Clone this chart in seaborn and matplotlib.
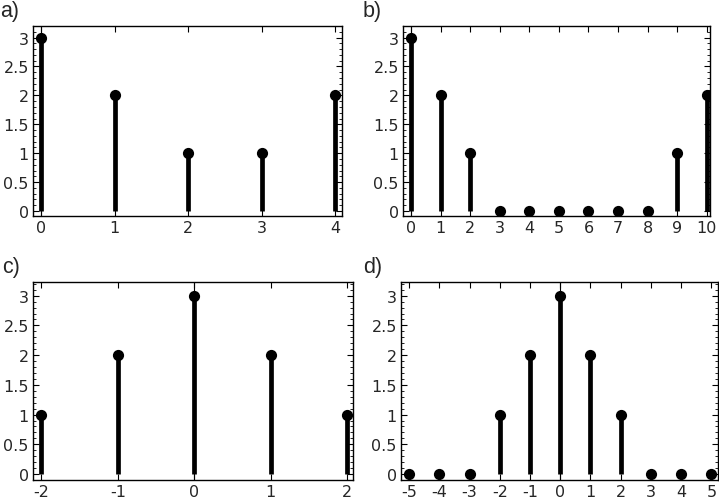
import matplotlib
matplotlib.use("Agg")
import matplotlib.pyplot as plt
import seaborn as sns
import pandas as pd
import numpy as np
from matplotlib.ticker import MultipleLocator, FixedLocator

sns.set_theme(style="ticks")
plt.rcParams['font.family'] = ['DejaVu Sans']
plt.rcParams['axes.unicode_minus'] = False

# Data
panel_labels = ["a)", "b)", "c)", "d)"]
x_a = [0, 1, 2, 3, 4]
y_a = [3, 2, 1, 1, 2]
x_b = [0, 1, 2, 3, 4, 5, 6, 7, 8, 9, 10]
y_b = [3, 2, 1, 0, 0, 0, 0, 0, 0, 1, 2]
x_c = [-2, -1, 0, 1, 2]
y_c = [1, 2, 3, 2, 1]
x_d = [-5, -4, -3, -2, -1, 0, 1, 2, 3, 4, 5]
y_d = [0, 0, 0, 1, 2, 3, 2, 1, 0, 0, 0]
y_ticks = [0, 0.5, 1, 1.5, 2, 2.5, 3]
y_tick_labels = ["0", "0.5", "1", "1.5", "2", "2.5", "3"]

W, H = 719, 502
fig = plt.figure(figsize=(W / 100, H / 100), dpi=100)

def rect(l, r, t, b):
    return [l / W, 1 - b / H, (r - l) / W, (b - t) / H]

specs = [
    (x_a, y_a, rect(33, 342, 27, 217), (-0.109, 4.095), (-0.086, 3.2), (0, 1)),
    (x_b, y_b, rect(403, 710, 27, 217), (-0.27, 10.11), (-0.086, 3.2), (363, 1)),
    (x_c, y_c, rect(33, 353, 283, 481), (-2.11, 2.08), (-0.1, 3.23), (2, 257)),
    (x_d, y_d, rect(401, 718, 283, 481), (-5.27, 5.22), (-0.1, 3.23), (363, 257)),
]

for i, (xs, ys, r, xl, yl, lab) in enumerate(specs):
    ax = fig.add_axes(r)
    df = pd.DataFrame({"x": xs, "y": ys})
    ax.axvline(0, color="black", lw=0.8, zorder=1)
    ax.vlines(df["x"], 0, df["y"], color="black", lw=3.4, zorder=2)
    sns.scatterplot(data=df, x="x", y="y", ax=ax, color="black", s=65,
                    edgecolor="black", linewidth=0, zorder=3, legend=False)
    ax.set_xlim(*xl)
    ax.set_ylim(*yl)
    ax.set_xlabel("")
    ax.set_ylabel("")
    ax.xaxis.set_major_locator(FixedLocator(xs))
    ax.set_xticklabels([str(v) for v in xs])
    ax.yaxis.set_major_locator(FixedLocator(y_ticks))
    ax.set_yticklabels(y_tick_labels)
    ax.yaxis.set_minor_locator(MultipleLocator(0.1))
    ax.tick_params(which="major", direction="in", length=4, width=0.8,
                   top=True, right=True, labelsize=11.5, pad=3, color="black")
    ax.tick_params(which="minor", direction="in", length=2, width=0.6,
                   top=True, right=True, color="black")
    for s in ax.spines.values():
        s.set_linewidth(1.0)
        s.set_color("black")
        s.set_visible(True)
    fig.text(lab[0] / W, 1 - lab[1] / H, panel_labels[i], ha="left", va="top",
             fontsize=15.5, family=["Liberation Sans", "DejaVu Sans"])

fig.savefig("out.png", dpi=100)
